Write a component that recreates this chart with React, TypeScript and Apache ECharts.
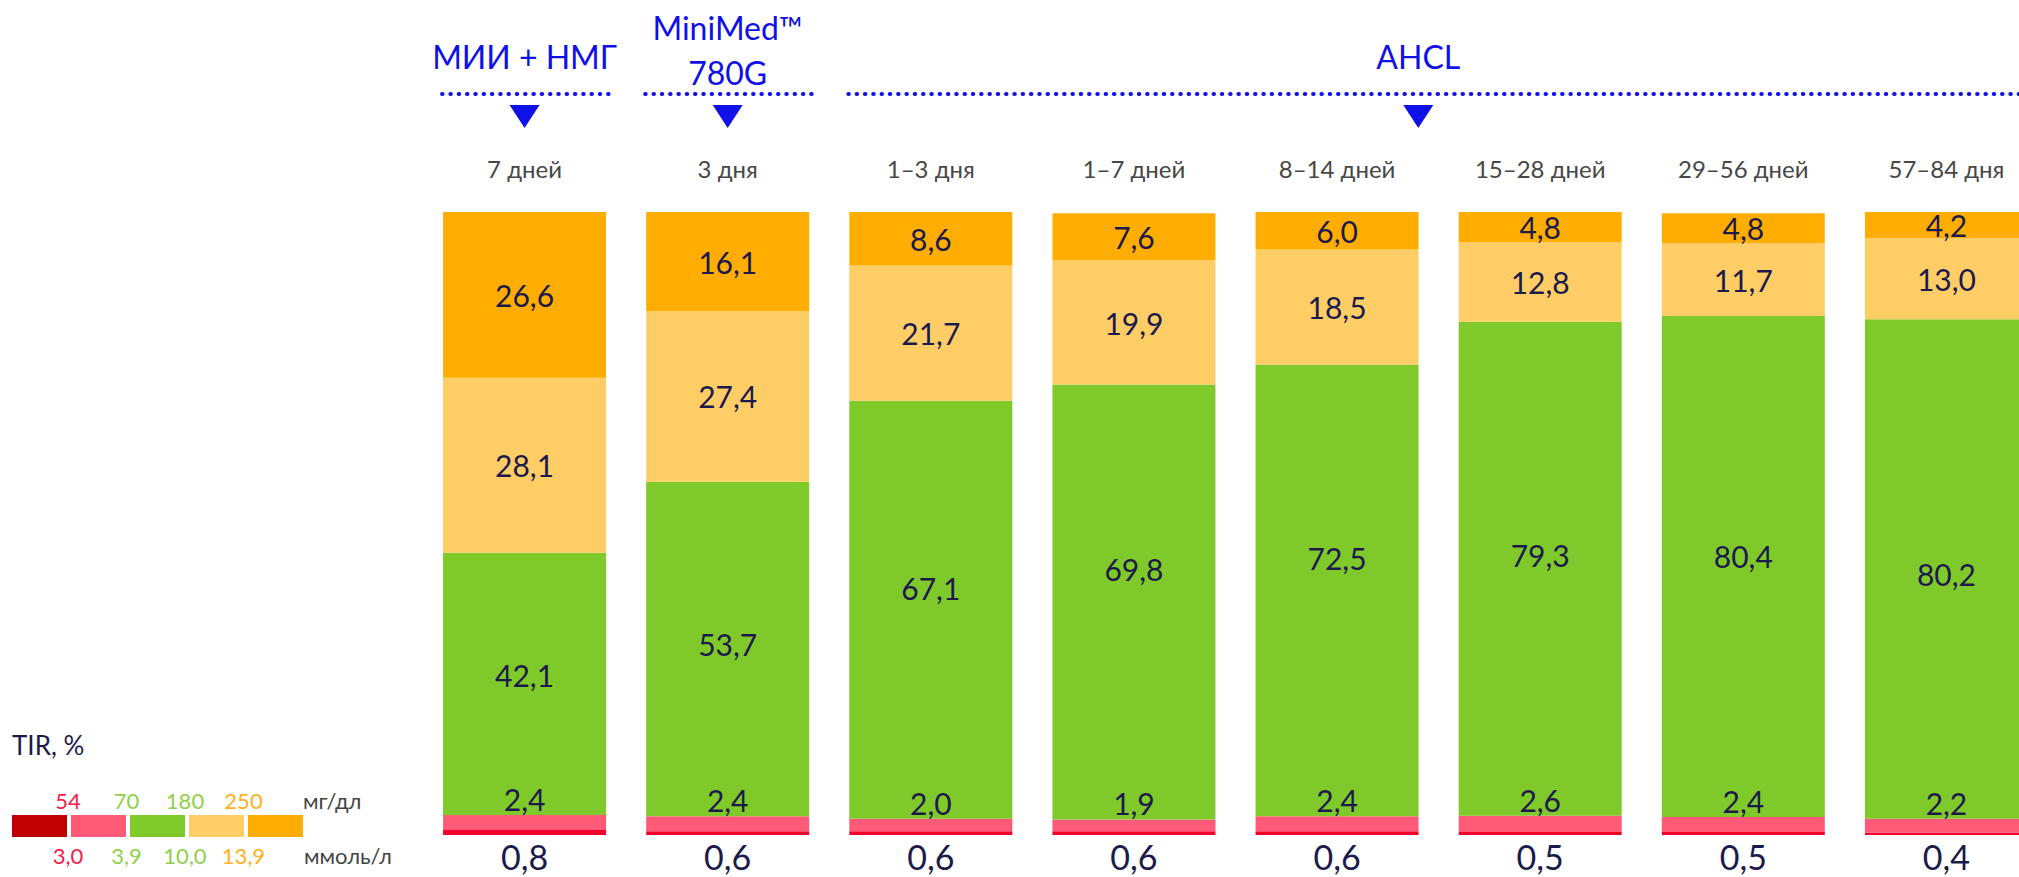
import React, { useEffect, useRef } from "react";
import * as echarts from "echarts";

const categories = ["7 дней", "3 дня", "1–3 дня", "1–7 дней", "8–14 дней", "15–28 дней", "29–56 дней", "57–84 дня"];
const veryLow = [0.8, 0.6, 0.6, 0.6, 0.6, 0.5, 0.5, 0.4];
const low = [2.4, 2.4, 2.0, 1.9, 2.4, 2.6, 2.4, 2.2];
const inRange = [42.1, 53.7, 67.1, 69.8, 72.5, 79.3, 80.4, 80.2];
const high = [28.1, 27.4, 21.7, 19.9, 18.5, 12.8, 11.7, 13.0];
const veryHigh = [26.6, 16.1, 8.6, 7.6, 6.0, 4.8, 4.8, 4.2];

// vertical nudges (px) of the in-range labels, as placed in the original
const inRangeLabelNudge = [-9, -5, -22, -33, -32, -14, -10, 5];

const groupLabels = ["МИИ + НМГ", "MiniMed™\n780G", "AHCL"];
const groupFirst = [0, 1, 2];
const groupLast = [0, 1, 7];
const groupArrowAt = [0, 1, 4.4];

const legendColors = ["#C00000", "#FF5A78", "#7FC92A", "#FFCD66", "#FFAD00"];
const mgdlTicks = ["54", "70", "180", "250"];
const mmolTicks = ["3,0", "3,9", "10,0", "13,9"];
const tickColors = ["#F0204A", "#8FD04A", "#8FD04A", "#FFB020"];

const NAVY = "#1C1A4A";
const BLUE = "#1010E8";
const FONT = "Lato, 'Noto Sans', sans-serif";

const fmt = (v: number) => v.toFixed(1).replace(".", ",");

export default function App() {
  const ref = useRef<HTMLDivElement>(null);
  useEffect(() => {
    if (!ref.current) return;
    const chart = echarts.init(ref.current, undefined, { renderer: "svg" });
    const mk = (name: string, data: any[], color: string, label: any) => ({
      name,
      type: "bar",
      stack: "tir",
      barWidth: 163,
      data,
      itemStyle: { color },
      label: {
        show: true,
        color: NAVY,
        fontSize: 30,
        fontFamily: FONT,
        formatter: (p: any) => fmt(p.value),
        ...label,
      },
    });
    chart.setOption({
      animation: false,
      grid: { left: 423, top: 212, width: 1625, height: 623 },
      xAxis: {
        type: "category",
        position: "top",
        data: categories,
        axisLine: { show: false },
        axisTick: { show: false },
        axisLabel: {
          color: "#474747",
          fontSize: 24,
          fontFamily: FONT,
          margin: 44,
          verticalAlign: "middle",
          interval: 0,
        },
      },
      yAxis: { type: "value", min: 0, max: 100, show: false },
      series: [
        mk("<3,0", veryLow, "#F0002A", { position: "bottom", distance: 4, fontSize: 34, lineHeight: 34 }),
        mk("3,0–3,9", low, "#FF5A78", { position: "top", distance: 1 }),
        mk(
          "3,9–10,0",
          inRange.map((v, i) => ({ value: v, label: { offset: [0, inRangeLabelNudge[i]] } })),
          "#7FC92A",
          { position: "inside" }
        ),
        mk("10,0–13,9", high, "#FFCD66", { position: "inside" }),
        mk(">13,9", veryHigh, "#FFAD00", { position: "inside" }),
      ],
    });

    const px = (c: number) => {
      const a = chart.convertToPixel({ xAxisIndex: 0 }, 0) as number;
      const b = chart.convertToPixel({ xAxisIndex: 0 }, 1) as number;
      return a + (b - a) * c;
    };
    const graphics: any[] = [];
    groupLabels.forEach((lab, i) => {
      const x0 = px(groupFirst[i]) - 84.5;
      const x1 = i === groupLabels.length - 1 ? 2030 : px(groupLast[i]) + 84.5;
      const xa = px(groupArrowAt[i]);
      const multi = lab.includes("\n");
      graphics.push({
        type: "text",
        x: xa,
        y: multi ? 50 : 56,
        style: {
          text: lab,
          fill: BLUE,
          fontSize: 32,
          fontFamily: FONT,
          align: "center",
          verticalAlign: "middle",
          lineHeight: 45,
        },
      });
      graphics.push({
        type: "line",
        shape: { x1: x0 + 2, y1: 94, x2: x1, y2: 94 },
        style: { stroke: BLUE, lineWidth: 4, lineDash: [0.5, 7.8], lineCap: "round" },
      });
      graphics.push({
        type: "polygon",
        shape: { points: [[xa - 15, 105], [xa + 15, 105], [xa, 128]] },
        style: { fill: BLUE },
      });
    });
    // legend
    graphics.push({
      type: "text",
      x: 12,
      y: 745,
      style: { text: "TIR, %", fill: NAVY, fontSize: 26, fontFamily: FONT, verticalAlign: "middle" },
    });
    legendColors.forEach((c, i) => {
      graphics.push({
        type: "rect",
        shape: { x: 12 + i * 59, y: 815, width: 55, height: 22 },
        style: { fill: c },
      });
    });
    mgdlTicks.forEach((t, i) => {
      const x = 68 + i * 58.5;
      graphics.push({
        type: "text",
        x,
        y: 800,
        style: { text: t, fill: tickColors[i], fontSize: 22, fontFamily: FONT, align: "center", verticalAlign: "middle" },
      });
      graphics.push({
        type: "text",
        x,
        y: 855,
        style: { text: mmolTicks[i], fill: tickColors[i], fontSize: 22, fontFamily: FONT, align: "center", verticalAlign: "middle" },
      });
    });
    graphics.push({
      type: "text",
      x: 303,
      y: 800,
      style: { text: "мг/дл", fill: "#444444", fontSize: 22, fontFamily: FONT, verticalAlign: "middle" },
    });
    graphics.push({
      type: "text",
      x: 304,
      y: 855,
      style: { text: "ммоль/л", fill: "#444444", fontSize: 22, fontFamily: FONT, verticalAlign: "middle" },
    });
    chart.setOption({ graphic: graphics });
    return () => chart.dispose();
  }, []);
  return (
    <div style={{ position: "fixed", left: 0, top: 0, width: 2019, height: 877, overflow: "hidden", background: "#fff" }}>
      <div ref={ref} style={{ width: 2060, height: 877 }} />
    </div>
  );
}
